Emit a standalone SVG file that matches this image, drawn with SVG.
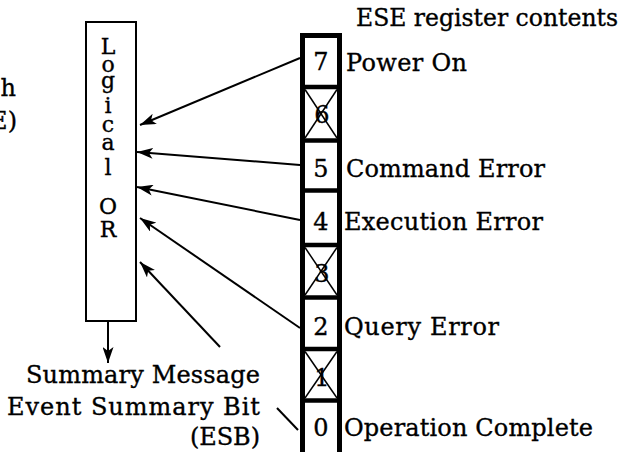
<svg xmlns="http://www.w3.org/2000/svg" width="632" height="452" viewBox="0 0 632 452">
<defs>
<marker id="ah" markerWidth="17" markerHeight="11" refX="16" refY="5.5" orient="auto" markerUnits="userSpaceOnUse">
<path d="M0,0 L16,5.5 L0,11 L4,5.5 z" fill="#000"/>
</marker>
<style>
text{font-family:"DejaVu Serif","Liberation Serif",serif;font-size:24px;fill:#000;stroke:#000;stroke-width:0.35}
.box{fill:#fff;stroke:#000;stroke-width:2}
.frame{fill:none;stroke:#000;stroke-width:5}
.div{stroke:#000;stroke-width:4.5}
.x{stroke:#000;stroke-width:1.5}
.c{fill:none;stroke:#000;stroke-width:2;marker-end:url(#ah)}
.ln{fill:none;stroke:#000;stroke-width:2}
.v{text-anchor:middle;font-size:22px}
.d{text-anchor:middle;font-size:24px}
.e{text-anchor:end}
</style>
</defs>
<rect width="632" height="452" fill="#fff"/>

<g id="cut-text">
<text class="e" x="16" y="96">h</text>
<text class="e" x="17" y="129">E)</text>
</g>

<g id="logical-or">
<rect class="box" x="86" y="22" width="50" height="299"/>
<text class="v" x="108" y="54">L</text>
<text class="v" x="108" y="72">o</text>
<text class="v" x="108" y="88">g</text>
<text class="v" x="108" y="113">i</text>
<text class="v" x="108" y="132">c</text>
<text class="v" x="108" y="150">a</text>
<text class="v" x="108" y="175">l</text>
<text class="v" x="108" y="214">O</text>
<text class="v" x="108" y="237">R</text>
</g>

<g id="register">
<text x="356" y="26" textLength="262" lengthAdjust="spacingAndGlyphs">ESE register contents</text>
<rect class="frame" x="302.5" y="35.5" width="37" height="430"/>
<line class="div" x1="300" y1="87" x2="342" y2="87"/>
<line class="div" x1="300" y1="140.5" x2="342" y2="140.5"/>
<line class="div" x1="300" y1="190.5" x2="342" y2="190.5"/>
<line class="div" x1="300" y1="245" x2="342" y2="245"/>
<line class="div" x1="300" y1="297.5" x2="342" y2="297.5"/>
<line class="div" x1="300" y1="349" x2="342" y2="349"/>
<line class="div" x1="300" y1="400.5" x2="342" y2="400.5"/>
</g>

<g id="bit7">
<text class="d" x="321" y="70">7</text>
<text x="346" y="71" textLength="121" lengthAdjust="spacing">Power On</text>
</g>
<g id="bit6">
<text class="d" x="322" y="123">6</text>
<line class="x" x1="305" y1="89.5" x2="337" y2="138"/>
<line class="x" x1="337" y1="89.5" x2="305" y2="138"/>
</g>
<g id="bit5">
<text class="d" x="321" y="177">5</text>
<text x="346" y="177" textLength="199" lengthAdjust="spacing">Command Error</text>
</g>
<g id="bit4">
<text class="d" x="321" y="230">4</text>
<text x="344" y="230" textLength="199" lengthAdjust="spacing">Execution Error</text>
</g>
<g id="bit3">
<text class="d" x="322" y="282">3</text>
<line class="x" x1="305" y1="247.5" x2="337" y2="295"/>
<line class="x" x1="337" y1="247.5" x2="305" y2="295"/>
</g>
<g id="bit2">
<text class="d" x="321" y="335">2</text>
<text x="344" y="335" textLength="155" lengthAdjust="spacing">Query Error</text>
</g>
<g id="bit1">
<text class="d" x="322" y="386">1</text>
<line class="x" x1="305" y1="351.5" x2="337" y2="398"/>
<line class="x" x1="337" y1="351.5" x2="305" y2="398"/>
</g>
<g id="bit0">
<text class="d" x="321" y="436">0</text>
<text x="344" y="436" textLength="249" lengthAdjust="spacing">Operation Complete</text>
</g>

<g id="summary-label">
<text x="26" y="383" textLength="234" lengthAdjust="spacing">Summary Message</text>
<text x="7" y="415" textLength="253" lengthAdjust="spacing">Event Summary Bit</text>
<text x="190" y="445" textLength="70" lengthAdjust="spacing">(ESB)</text>
</g>

<g id="connectors">
<line class="c" x1="300" y1="58" x2="140" y2="125"/>
<line class="c" x1="300" y1="165" x2="137" y2="152"/>
<line class="c" x1="300" y1="220" x2="137" y2="187"/>
<line class="c" x1="300" y1="328" x2="140" y2="218"/>
<line class="ln" x1="298" y1="430" x2="277" y2="408"/>
<line class="c" x1="220" y1="347" x2="140" y2="262"/>
<line class="c" x1="108" y1="321" x2="108" y2="363"/>
</g>
</svg>
